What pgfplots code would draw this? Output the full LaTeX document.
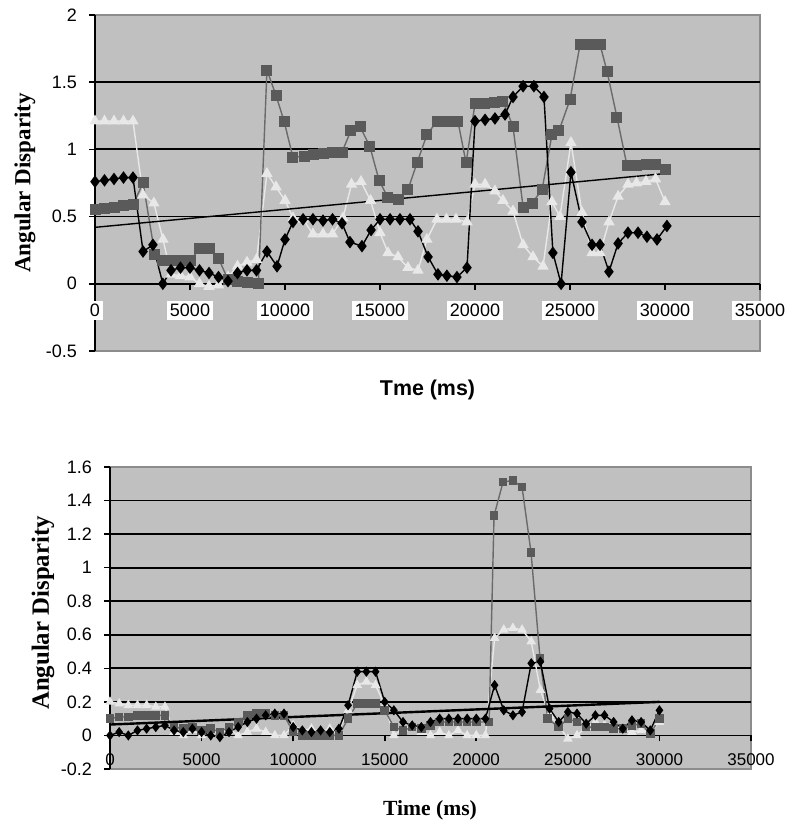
\documentclass[border=0pt]{standalone}
\usepackage{pgfplots}
\pgfplotsset{compat=1.18}
\usepackage{fontspec}
\setmainfont{Liberation Serif}
\setsansfont{Liberation Sans}

\definecolor{plotbg}{HTML}{C0C0C0}
\definecolor{framegray}{HTML}{8C8C8C}
\definecolor{sqfill}{HTML}{5A5A5A}
\definecolor{sqline}{HTML}{6A6A6A}
\definecolor{trifill}{HTML}{E8E8E8}

\pgfplotsset{
  excel/.style={
    scale only axis,
    axis lines=middle,
    axis line style={-, black, line width=0.9pt},
    axis background/.style={fill=plotbg, draw=framegray, line width=0.6pt},
    xmin=0, xmax=35000,
    xtick={0,5000,10000,15000,20000,25000,30000,35000},
    scaled x ticks=false, scaled y ticks=false,
    x tick label style={/pgf/number format/1000 sep={}},
    hide obscured x ticks=false, hide obscured y ticks=false,
    tick align=outside, major tick length=3pt,
    tick style={black, line width=0.8pt},
    /pgf/number format/assume math mode=true,
    ticklabel style={font=\sffamily\fontsize{9}{9}\selectfont},
    extra y tick style={grid=major, major grid style={black, line width=0.9pt}},
    clip=false,
  },
  dia/.style={black, line width=0.7pt, mark=diamond*, mark size=2.6pt, mark options={fill=black, draw=black}},
  sq/.style={sqline, line width=0.7pt, mark=square*, mark size=2.4pt, mark options={fill=sqfill, draw=sqfill}},
  tri/.style={trifill, line width=0.7pt, mark=triangle*, mark size=2.6pt, mark options={fill=trifill, draw=trifill}},
}

\begin{document}
\begin{tikzpicture}
\path[use as bounding box] (0,0) rectangle (397.5pt,411pt);

% upper chart
\begin{axis}[excel,
  at={(47.5pt,235.5pt)}, anchor=south west,
  width=332.5pt, height=168pt,
  ymin=-0.5, ymax=2,
  ytick={-0.5,0,0.5,1,1.5,2},
  extra y ticks={0.5,1,1.5}, extra y tick labels={},
  x tick label style={fill=white, inner sep=1.5pt, yshift=-5.5pt},
  y tick label style={xshift=-2.5pt},
]
\addplot[tri] coordinates {
 (0,1.21) (500,1.21) (1000,1.21) (1500,1.21) (2000,1.21) (2530,0.66) (3100,0.60)
 (3580,0.33) (4000,0.07) (4500,0.06) (5000,0.05) (5500,0.0) (6000,-0.02) (6500,-0.01)
 (7000,0.05) (7500,0.13) (8000,0.16) (8500,0.18) (9050,0.82) (9530,0.72) (10000,0.62)
 (10420,0.49) (10950,0.48) (11470,0.37) (12000,0.37) (12500,0.37) (13050,0.49)
 (13500,0.74) (14000,0.76) (14500,0.62) (15000,0.38) (15420,0.23) (15950,0.20)
 (16470,0.12) (17000,0.10) (17470,0.33) (18000,0.48) (18500,0.48) (19000,0.48)
 (19580,0.46) (20000,0.74) (20530,0.74) (21050,0.69) (21470,0.62) (22000,0.54)
 (22530,0.29) (23050,0.20) (23580,0.13) (24050,0.61) (24470,0.50) (25050,1.05)
 (25630,0.53) (26160,0.23) (26580,0.23) (27050,0.46) (27530,0.65) (28050,0.74)
 (28500,0.75) (29000,0.76) (29500,0.78) (30000,0.61)
};
\addplot[sq] coordinates {
 (0,0.55) (500,0.56) (1000,0.57) (1500,0.58) (2000,0.59) (2530,0.75) (3150,0.22)
 (3550,0.17) (4000,0.17) (4500,0.17) (5000,0.17) (5500,0.26) (6000,0.26) (6500,0.19)
 (7000,0.03) (7500,0.02) (8000,0.01) (8600,0.0) (9050,1.59) (9530,1.40) (9950,1.21)
 (10420,0.94) (11000,0.95) (11500,0.96) (12000,0.97) (12500,0.98) (13000,0.98)
 (13470,1.14) (13950,1.17) (14470,1.02) (14950,0.77) (15420,0.64) (15950,0.63)
 (16470,0.70) (16950,0.90) (17470,1.11) (18000,1.21) (18500,1.21) (19100,1.21)
 (19530,0.90) (20000,1.34) (20500,1.34) (21000,1.35) (21470,1.36) (22000,1.17)
 (22530,0.57) (23000,0.60) (23530,0.70) (24050,1.11) (24420,1.14) (25000,1.37)
 (25530,1.78) (26000,1.78) (26580,1.78) (26950,1.58) (27470,1.24) (28000,0.88)
 (28500,0.88) (29000,0.89) (29500,0.89) (30000,0.85)
};
\addplot[dia] coordinates {
 (0,0.76) (500,0.77) (1000,0.78) (1500,0.79) (2000,0.79) (2530,0.24) (3050,0.29)
 (3570,0.0) (4000,0.10) (4500,0.12) (5000,0.12) (5500,0.10) (6000,0.08) (6500,0.05)
 (7000,0.02) (7500,0.08) (8000,0.10) (8500,0.10) (9050,0.24) (9580,0.13) (10000,0.33)
 (10420,0.46) (10950,0.48) (11470,0.48) (12000,0.47) (12500,0.48) (13000,0.45)
 (13420,0.31) (14050,0.28) (14530,0.40) (15000,0.48) (15530,0.48) (16050,0.48)
 (16580,0.48) (17000,0.39) (17530,0.20) (18050,0.07) (18520,0.06) (19050,0.05)
 (19580,0.12) (20000,1.21) (20530,1.22) (21050,1.23) (21580,1.26) (22000,1.39)
 (22530,1.47) (23100,1.47) (23630,1.39) (24100,0.23) (24530,0.0) (25050,0.83)
 (25630,0.46) (26160,0.29) (26580,0.29) (27050,0.09) (27530,0.30) (28050,0.38)
 (28580,0.38) (29050,0.35) (29580,0.33) (30100,0.43)
};
\addplot[black, line width=0.7pt] coordinates {(0,0.42) (30000,0.82)};
\end{axis}

% lower chart
\begin{axis}[excel,
  at={(55pt,26.5pt)}, anchor=south west,
  width=320.5pt, height=151pt,
  ymin=-0.2, ymax=1.6,
  ytick={-0.2,0,0.2,0.4,0.6,0.8,1,1.2,1.4,1.6},
  extra y ticks={0.2,0.4,0.6,0.8,1,1.2,1.4}, extra y tick labels={},
  x tick label style={font=\sffamily\fontsize{8.5}{8.5}\selectfont, yshift=-2.5pt},
  y tick label style={xshift=-2.5pt},
  dia/.append style={mark size=2pt},
  sq/.append style={mark size=1.8pt},
  tri/.append style={mark size=2.1pt},
]
\addplot[tri] coordinates {
 (0,0.20) (500,0.19) (1000,0.18) (1500,0.18) (2000,0.18) (2500,0.17) (3000,0.17)
 (3500,0.02) (4000,0.0) (4500,0.03) (5000,0.0) (5500,0.03) (6000,0.01) (6500,0.04)
 (7000,0.0) (7500,0.02) (8000,0.04) (8500,0.02) (9000,0.0) (9500,0.0) (10000,0.06)
 (10500,0.03) (11000,0.04) (11500,0.02) (12000,0.04) (12500,0.03) (13000,0.15)
 (13500,0.30) (14000,0.32) (14500,0.30) (15000,0.18) (15500,0.0) (16000,0.04)
 (16500,0.06) (17000,0.02) (17500,0.0) (18000,0.02) (18500,0.0) (19000,0.03)
 (19500,0.0) (20000,0.0) (20500,0.0) (21000,0.58) (21500,0.63) (22000,0.64)
 (22500,0.63) (23000,0.56) (23500,0.27) (24000,0.12) (24500,0.06) (25000,-0.02)
 (25500,0.0) (26000,0.05) (26500,0.08) (27000,0.06) (27500,0.07) (28000,0.03)
 (28500,0.02) (29000,0.03) (29500,0.02) (30000,0.08)
};
\addplot[sq] coordinates {
 (0,0.10) (500,0.11) (1000,0.11) (1500,0.12) (2000,0.12) (2500,0.12) (3000,0.12)
 (3500,0.05) (4000,0.04) (4500,0.05) (5000,0.03) (5500,0.04) (6000,0.02) (6500,0.05)
 (7000,0.08) (7500,0.12) (8000,0.13) (8500,0.13) (9000,0.12) (9500,0.12) (10000,0.02)
 (10500,0.0) (11000,0.0) (11500,0.0) (12000,0.0) (12500,0.0) (13000,0.10)
 (13500,0.19) (14000,0.19) (14500,0.19) (15000,0.15) (15500,0.05) (16000,0.03)
 (16500,0.05) (17000,0.04) (17500,0.06) (18000,0.08) (18500,0.08) (19000,0.08)
 (19500,0.08) (20000,0.08) (20700,0.08) (20970,1.31) (21460,1.51) (22000,1.52)
 (22500,1.48) (22990,1.09) (23480,0.46) (23900,0.10) (24500,0.05) (25000,0.10)
 (25500,0.08) (26000,0.05) (26500,0.05) (27000,0.05) (27500,0.04) (28000,0.04)
 (28500,0.06) (29000,0.07) (29500,0.01) (30000,0.10)
};
\addplot[dia] coordinates {
 (0,0.0) (500,0.02) (1000,0.0) (1500,0.03) (2000,0.04) (2500,0.05) (3000,0.06)
 (3500,0.03) (4000,0.02) (4500,0.04) (5000,0.02) (5500,0.0) (6000,-0.01) (6500,0.02)
 (7000,0.05) (7500,0.08) (8000,0.10) (8500,0.12) (9000,0.13) (9500,0.13) (10000,0.05)
 (10500,0.03) (11000,0.02) (11500,0.03) (12000,0.02) (12500,0.04) (13000,0.18)
 (13500,0.38) (14000,0.38) (14500,0.38) (15000,0.20) (15500,0.15) (16000,0.08)
 (16500,0.06) (17000,0.05) (17500,0.08) (18000,0.10) (18500,0.10) (19000,0.10)
 (19500,0.10) (20000,0.10) (20500,0.10) (21000,0.30) (21500,0.15) (22000,0.12)
 (22500,0.14) (23000,0.43) (23500,0.44) (24000,0.16) (24500,0.08) (25000,0.14)
 (25500,0.13) (26000,0.07) (26500,0.12) (27000,0.12) (27500,0.08) (28000,0.04)
 (28500,0.09) (29000,0.08) (29500,0.03) (30000,0.15)
};
\addplot[black, line width=1.2pt] coordinates {(0,0.065) (30000,0.20)};
\end{axis}

\node[rotate=90, font=\bfseries\fontsize{11.5}{12}\selectfont] at (12.5pt,319.5pt) {Angular Disparity};
\node[font=\sffamily\bfseries\fontsize{10.7}{12}\selectfont] at (213.75pt,216pt) {Tme (ms)};
\node[rotate=90, font=\bfseries\fontsize{12.4}{13}\selectfont] at (21.5pt,104.5pt) {Angular Disparity};
\node[font=\bfseries\fontsize{10.8}{12}\selectfont] at (215pt,6pt) {Time (ms)};
\end{tikzpicture}
\end{document}
